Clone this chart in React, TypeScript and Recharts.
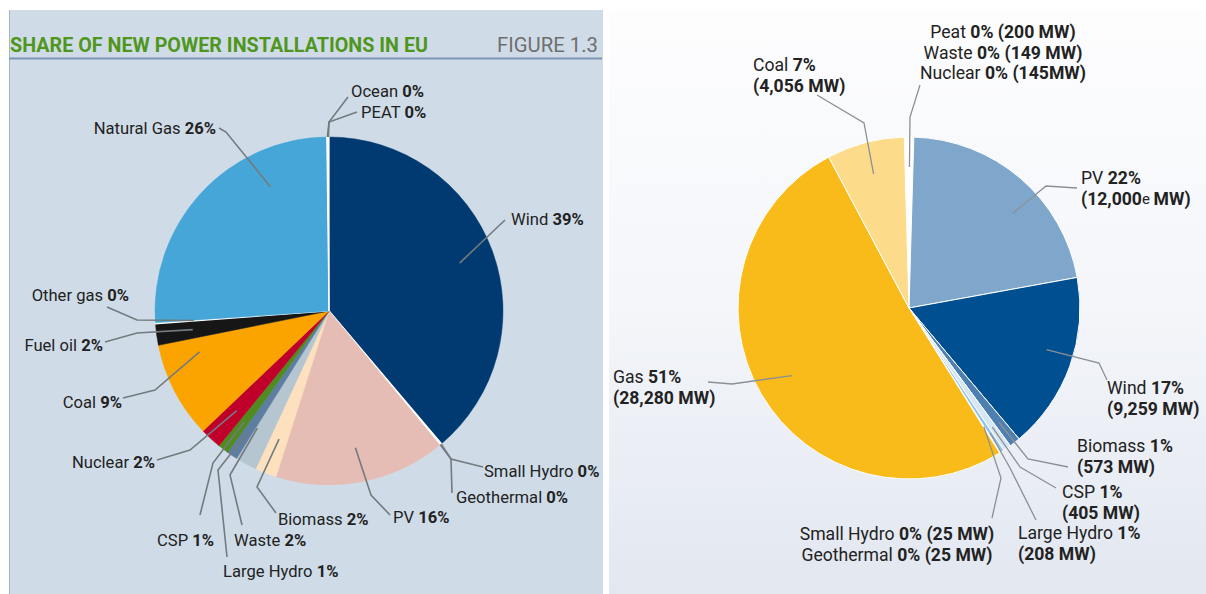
import { PieChart, Pie, Cell } from "recharts";

// left: share of new power installations in EU (%), clockwise from 12 o'clock
const leftNames = ["Wind", "Small Hydro", "Geothermal", "PV", "Biomass", "Waste", "Large Hydro", "CSP", "Nuclear", "Coal", "Fuel oil", "Other gas", "Natural Gas", "Ocean", "PEAT"];
const leftShares = [39, 0.1, 0.1, 16, 2, 2, 1, 1, 2, 9, 2, 0.1, 26, 0.1, 0.1];
const leftPctLabels = [39, 0, 0, 16, 2, 2, 1, 1, 2, 9, 2, 0, 26, 0, 0];
const leftColors = ["#003a70", "#ffffff", "#ffffff", "#e5bdb5", "#fde0bd", "#b5c6d0", "#5d7ea0", "#4f8b1f", "#c0002b", "#fba400", "#161616", "#ffffff", "#45a6d7", "#ffffff", "#ffffff"];

// right: new installations in MW
const rightNames = ["Peat", "Waste", "Nuclear", "PV", "Wind", "Biomass", "CSP", "Large Hydro", "Small Hydro", "Geothermal", "Gas", "Coal"];
const rightMW = [200, 149, 145, 12000, 9259, 573, 405, 208, 25, 25, 28280, 4056];
const rightPctLabels = [0, 0, 0, 22, 17, 1, 1, 1, 0, 0, 51, 7];
const rightMWLabels = ["200 MW", "149 MW", "145MW", "12,000e MW", "9,259 MW", "573 MW", "405 MW", "208 MW", "25 MW", "25 MW", "28,280 MW", "4,056 MW"];
const rightColors = ["#ffffff", "#ffffff", "#ffffff", "#7fa7cb", "#004f91", "#4d7fb0", "#d6e6f3", "#8dc4ea", "#ffffff", "#ffffff", "#f9bb19", "#fcdb8a"];

const leftData = leftNames.map((name, i) => ({ name, value: leftShares[i] }));
const rightData = rightNames.map((name, i) => ({ name, value: rightMW[i] }));

const FONT = "Roboto, 'Liberation Sans', Arial, sans-serif";
const RAD = Math.PI / 180;

type Anchor = "start" | "middle" | "end";
type LabelLayout = {
  rf: number; // leader start, fraction of radius
  da?: number; // clockwise nudge of leader start, degrees
  path: [number, number][]; // elbow points, offsets from pie centre
  tx: number;
  ty: number;
  anchor: Anchor;
  items?: string[];
  mode?: "stack" | "inline";
};

// label placement, offsets from the pie centre
const leftLayout: Record<string, LabelLayout> = {
  Wind: { rf: 0.8, path: [[176, -91]], tx: 182, ty: -92, anchor: "start" },
  "Small Hydro": { rf: 1, path: [[122, 148], [154, 156]], tx: 155, ty: 160, anchor: "start" },
  Geothermal: { rf: 1, path: [[122, 148], [123, 182]], tx: 127, ty: 186, anchor: "start" },
  PV: { rf: 0.8, path: [[42, 184], [61, 204]], tx: 64, ty: 206, anchor: "start" },
  Biomass: { rf: 0.79, path: [[-72, 176], [-53, 202]], tx: -51, ty: 208, anchor: "start" },
  Waste: { rf: 0.79, da: 3, path: [[-99, 164], [-87, 214]], tx: -95, ty: 229, anchor: "start" },
  "Large Hydro": { rf: 0.85, path: [[-111, 159], [-102, 246]], tx: -106, ty: 260, anchor: "start" },
  CSP: { rf: 0.8, path: [[-116, 152], [-129, 204]], tx: -172, ty: 229, anchor: "start" },
  Nuclear: { rf: 0.78, path: [[-139, 139], [-172, 149]], tx: -174, ty: 151, anchor: "end" },
  Coal: { rf: 0.78, da: 10, path: [[-174, 79], [-206, 87]], tx: -207, ty: 91, anchor: "end" },
  "Fuel oil": { rf: 0.79, path: [[-192, 22], [-224, 31]], tx: -226, ty: 34, anchor: "end" },
  "Other gas": { rf: 0.78, path: [[-192, 9], [-222, -4]], tx: -200, ty: -16, anchor: "end" },
  "Natural Gas": { rf: 0.79, da: 22, path: [[-103, -179], [-110, -183]], tx: -113, ty: -183, anchor: "end" },
  Ocean: { rf: 1, path: [[0, -189], [19, -214]], tx: 22, ty: -220, anchor: "start" },
  PEAT: { rf: 1, path: [[0, -189], [28, -199]], tx: 32, ty: -199, anchor: "start" },
};

const rightLayout: Record<string, LabelLayout> = {
  Waste: { rf: 0.825, path: [[1, -191], [11, -223]], tx: 94, ty: -276, anchor: "middle", items: ["Peat", "Waste", "Nuclear"], mode: "inline" },
  PV: { rf: 0.82, da: 7, path: [[137, -122], [168, -120]], tx: 172, ty: -130, anchor: "start" },
  Wind: { rf: 0.84, da: -3, path: [[190, 55], [198, 72]], tx: 198, ty: 80, anchor: "start" },
  Biomass: { rf: 0.85, path: [[119, 151], [159, 159]], tx: 168, ty: 138, anchor: "start" },
  CSP: { rf: 0.85, path: [[111, 159], [147, 180]], tx: 153, ty: 184, anchor: "start" },
  "Large Hydro": { rf: 0.87, path: [[101, 160], [127, 212]], tx: 109, ty: 225, anchor: "start" },
  "Small Hydro": { rf: 0.82, path: [[92, 170], [83, 210]], tx: -12, ty: 226, anchor: "middle", items: ["Small Hydro", "Geothermal"], mode: "inline" },
  Gas: { rf: 0.79, path: [[-177, 76], [-201, 74]], tx: -296, ty: 69, anchor: "start" },
  Coal: { rf: 0.81, path: [[-45, -185], [-92, -213]], tx: -156, ty: -243, anchor: "start" },
};

function mwSpan(s: string) {
  const m = s.match(/^(.*\d)e (MW)$/);
  if (!m) return <tspan fontWeight={700}>({s})</tspan>;
  return (
    <>
      <tspan fontWeight={700}>({m[1]}</tspan>
      <tspan fontWeight={400} fontSize="0.85em">e </tspan>
      <tspan fontWeight={700}>{m[2]})</tspan>
    </>
  );
}

function leaderPoints(p: any, L: LabelLayout) {
  const a = (p.midAngle - (L.da ?? 0)) * RAD;
  const r = p.outerRadius * L.rf;
  const pts = [[p.cx + r * Math.cos(-a), p.cy + r * Math.sin(-a)], ...L.path.map(([dx, dy]) => [p.cx + dx, p.cy + dy])];
  return pts.map((q) => q.join(",")).join(" ");
}

const renderLeftLabel = (p: any) => {
  const name = leftNames[p.index];
  const L = leftLayout[name];
  if (!L) return null;
  return (
    <g key={`ll-${name}`}>
      <polyline points={leaderPoints(p, L)} fill="none" stroke="#747a7e" strokeWidth={1.6} />
      <text x={p.cx + L.tx} y={p.cy + L.ty} textAnchor={L.anchor} dominantBaseline="central" fontFamily={FONT} fontSize={16.6} fill="#222">
        <tspan>{name}{" "}</tspan>
        <tspan fontWeight={700}>{leftPctLabels[p.index]}%</tspan>
      </text>
    </g>
  );
};

const renderRightLabel = (p: any) => {
  const name = rightNames[p.index];
  const L = rightLayout[name];
  if (!L) return null;
  const x = p.cx + L.tx;
  const y = p.cy + L.ty;
  const lh = 20.5;
  const fs = 17.6;
  let lines;
  if (L.mode === "inline" && L.items) {
    lines = L.items.map((n, k) => {
      const i = rightNames.indexOf(n);
      return (
        <text key={n} x={x} y={y + k * lh} textAnchor={L.anchor} dominantBaseline="central" fontFamily={FONT} fontSize={fs} fill="#222">
          <tspan>{n}{" "}</tspan>
          <tspan fontWeight={700}>{rightPctLabels[i]}%{" "}</tspan>
          {mwSpan(rightMWLabels[i])}
        </text>
      );
    });
  } else {
    lines = [
      <text key="a" x={x} y={y} textAnchor={L.anchor} dominantBaseline="central" fontFamily={FONT} fontSize={fs} fill="#222">
        <tspan>{name}{" "}</tspan>
        <tspan fontWeight={700}>{rightPctLabels[p.index]}%</tspan>
      </text>,
      <text key="b" x={x} y={y + lh} textAnchor={L.anchor} dominantBaseline="central" fontFamily={FONT} fontSize={fs} fill="#222">
        {mwSpan(rightMWLabels[p.index])}
      </text>,
    ];
  }
  return (
    <g key={`rl-${name}`}>
      <polyline points={leaderPoints(p, L)} fill="none" stroke="#8c9096" strokeWidth={1.3} />
      {lines}
    </g>
  );
};

export default function App() {
  return (
    <div style={{ position: "absolute", left: 0, top: 0, width: 1206, height: 594, background: "#fff", overflow: "hidden" }}>
      {/* left panel */}
      <div style={{ position: "absolute", left: 9, top: 10, width: 593, height: 584, background: "#cfdce8", borderLeft: "1px solid #a9b6c2" }} />
      <svg style={{ position: "absolute", left: 0, top: 0 }} width={610} height={70}>
        <text x={10} y={45} dominantBaseline="central" fontFamily={FONT} fontWeight={700} fontSize={20} fill="#4f961c" textLength={418} lengthAdjust="spacingAndGlyphs">
          SHARE OF NEW POWER INSTALLATIONS IN EU
        </text>
        <text x={598} y={45} textAnchor="end" dominantBaseline="central" fontFamily={FONT} fontSize={20} fill="#6e6e6e" textLength={101} lengthAdjust="spacingAndGlyphs">
          FIGURE 1.3
        </text>
        <line x1={9} x2={602} y1={58.5} y2={58.5} stroke="#7b95b3" strokeWidth={2} />
      </svg>
      <div style={{ position: "absolute", left: 9, top: 10 }}>
        <PieChart width={593} height={584} margin={{ top: 0, right: 0, bottom: 0, left: 0 }}>
          <Pie
            data={leftData}
            dataKey="value"
            nameKey="name"
            cx={320}
            cy={301}
            outerRadius={174}
            startAngle={90}
            endAngle={-270}
            label={renderLeftLabel}
            labelLine={false}
            isAnimationActive={false}
          >
            {leftData.map((d, i) => (
              <Cell key={d.name} fill={leftColors[i]} stroke={leftColors[i]} strokeWidth={leftColors[i] === "#ffffff" ? 1.2 : 0.5} />
            ))}
          </Pie>
        </PieChart>
      </div>

      {/* right panel */}
      <div style={{ position: "absolute", left: 609, top: 10, width: 597, height: 584, background: "linear-gradient(to bottom, #fdfdfe 0%, #f4f6fa 50%, #e2e7f0 100%)" }} />
      <div style={{ position: "absolute", left: 609, top: 10 }}>
        <PieChart width={597} height={584} margin={{ top: 0, right: 0, bottom: 0, left: 0 }}>
          <Pie
            data={rightData}
            dataKey="value"
            nameKey="name"
            cx={300}
            cy={298}
            outerRadius={171}
            startAngle={91.6}
            endAngle={-268.4}
            label={renderRightLabel}
            labelLine={false}
            stroke="#ffffff"
            strokeWidth={1}
            isAnimationActive={false}
          >
            {rightData.map((d, i) => (
              <Cell key={d.name} fill={rightColors[i]} />
            ))}
          </Pie>
        </PieChart>
      </div>
    </div>
  );
}
